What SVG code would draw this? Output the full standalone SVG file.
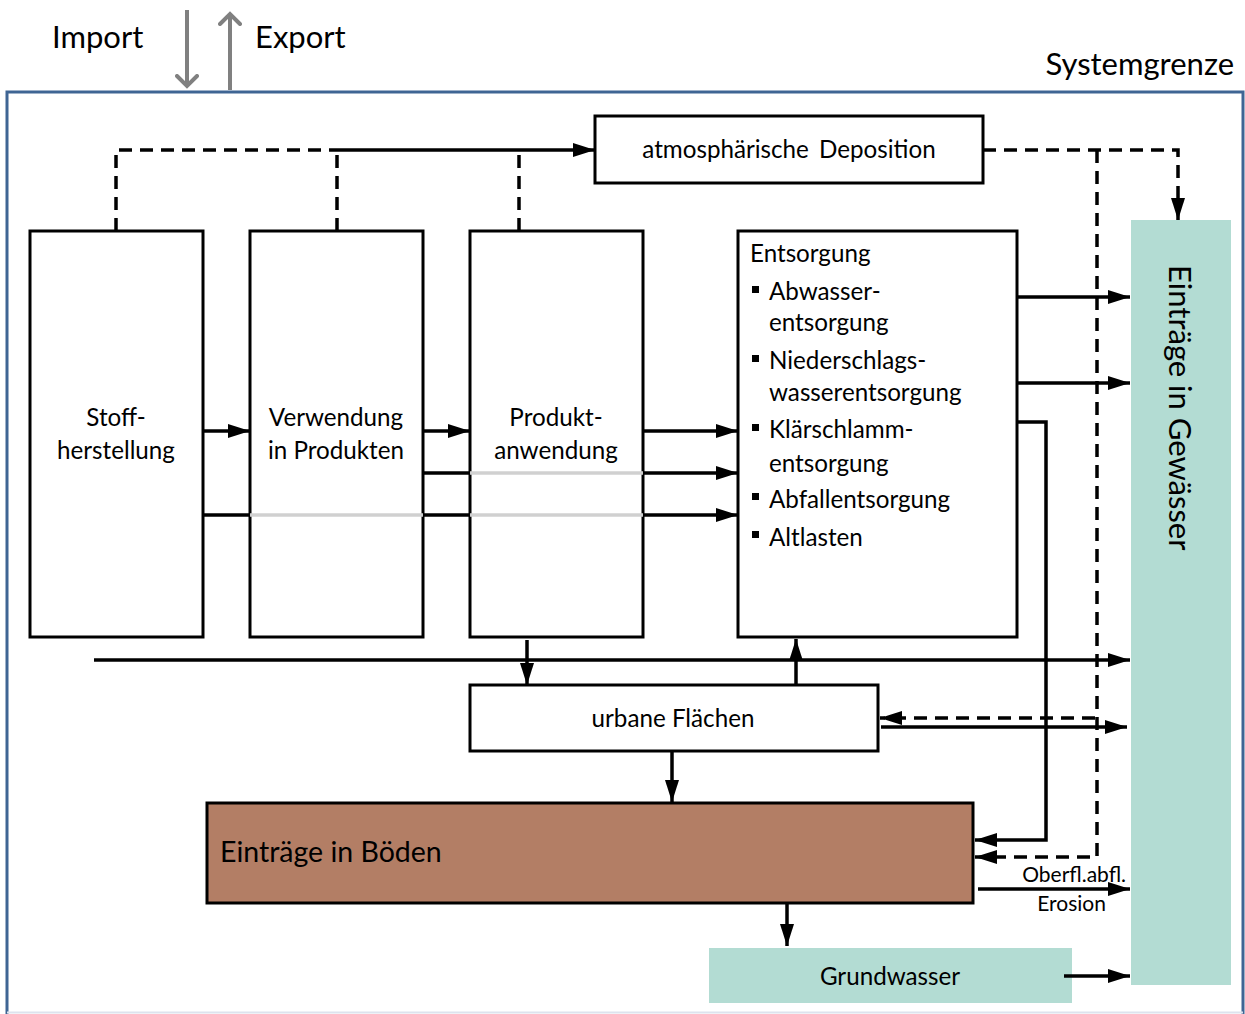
<svg xmlns="http://www.w3.org/2000/svg" width="1245" height="1014" viewBox="0 0 1245 1014">
<defs>
<marker id="ah" markerUnits="userSpaceOnUse" markerWidth="24" markerHeight="16" refX="22" refY="8" orient="auto">
<path d="M0,1 L22,8 L0,15 z" fill="#000"/>
</marker>
<marker id="gh" markerUnits="userSpaceOnUse" markerWidth="24" markerHeight="24" refX="12" refY="12" orient="auto">
<path d="M2,2 L12,12 L2,22" fill="none" stroke="#808080" stroke-width="4" stroke-linecap="round"/>
</marker>
<style>
text{font-family:Lato,"Open Sans","Liberation Sans",sans-serif;fill:#000}
.box{fill:#fff;stroke:#000;stroke-width:3}
.t22{font-size:24.2px}
.c{text-anchor:middle}
.ln{fill:none;stroke:#000;stroke-width:3.5}
.ds{fill:none;stroke:#000;stroke-width:3.5;stroke-dasharray:13 8}
.gl{stroke:#d0d0d0;stroke-width:3.5}
.teal{fill:#b3dcd3}
</style>
</defs>
<rect width="1245" height="1014" fill="#fff"/>
<!-- system boundary -->
<g id="systemgrenze">
<path d="M7,1014 V92 H1243 V1014" fill="none" stroke="#3f6594" stroke-width="3"/>
<line x1="7" y1="1012.5" x2="1243" y2="1012.5" stroke="#dde3ee" stroke-width="2"/>
<text x="1234" y="75" font-size="31" text-anchor="end">Systemgrenze</text>
</g>
<g id="import">
<line x1="187" y1="10" x2="187" y2="86" stroke="#808080" stroke-width="4" marker-end="url(#gh)"/>
<text x="52" y="48" font-size="31">Import</text>
</g>
<g id="export">
<line x1="230" y1="90" x2="230" y2="14" stroke="#808080" stroke-width="4" marker-end="url(#gh)"/>
<text x="255" y="48" font-size="31">Export</text>
</g>
<!-- nodes -->
<g id="deposition"><rect class="box" x="595" y="116" width="388" height="67"/><text class="t22 c" x="789" y="158" word-spacing="4">atmosphärische Deposition</text></g>
<g id="stoffherstellung"><rect class="box" x="30" y="231" width="173" height="406"/><text class="t22 c" x="116" y="426">Stoff-</text><text class="t22 c" x="116" y="459">herstellung</text></g>
<g id="verwendung"><rect class="box" x="250" y="231" width="173" height="406"/><text class="t22 c" x="336" y="426">Verwendung</text><text class="t22 c" x="336" y="459">in Produkten</text></g>
<g id="produktanwendung"><rect class="box" x="470" y="231" width="173" height="406"/><text class="t22 c" x="556" y="426">Produkt-</text><text class="t22 c" x="556" y="459">anwendung</text></g>
<g id="entsorgung"><rect class="box" x="738" y="231" width="279" height="406"/>
<text class="t22" x="750" y="262">Entsorgung</text>
<g fill="#000"><rect x="752" y="286" width="7" height="7"/><rect x="752" y="355" width="7" height="7"/><rect x="752" y="424" width="7" height="7"/><rect x="752" y="493" width="7" height="7"/><rect x="752" y="531" width="7" height="7"/></g>
<text class="t22" x="769" y="300">Abwasser-</text>
<text class="t22" x="769" y="331">entsorgung</text>
<text class="t22" x="769" y="369">Niederschlags-</text>
<text class="t22" x="769" y="401">wasserentsorgung</text>
<text class="t22" x="769" y="438">Klärschlamm-</text>
<text class="t22" x="769" y="472">entsorgung</text>
<text class="t22" x="769" y="508">Abfallentsorgung</text>
<text class="t22" x="769" y="546">Altlasten</text>
</g>
<g id="gewaesser"><rect class="teal" x="1131" y="220" width="100" height="765"/><text x="1169" y="265" font-size="31" transform="rotate(90 1169 265)">Einträge in Gewässer</text></g>
<g id="urban"><rect class="box" x="470" y="685" width="408" height="66"/><text class="t22 c" x="673" y="727">urbane Flächen</text></g>
<g id="boeden"><rect x="207" y="803" width="766" height="100" fill="#b37e65" stroke="#000" stroke-width="3"/><text x="220" y="862" font-size="28.5">Einträge in Böden</text></g>
<g id="grundwasser"><rect class="teal" x="709" y="948" width="363" height="55"/><text class="t22 c" x="890" y="985">Grundwasser</text></g>
<!-- connectors -->
<g id="connectors">
<path class="ds" d="M116,231 V150 H337"/>
<path class="ds" d="M337,231 V150"/>
<path class="ds" d="M519,231 V150"/>
<line class="ln" x1="337" y1="150" x2="595" y2="150" marker-end="url(#ah)"/>
<path class="ds" d="M983,150 H1178 V220" marker-end="url(#ah)"/>
<path class="ds" d="M1097,150 V857 H975" marker-end="url(#ah)"/>
<line class="ln" x1="203" y1="431" x2="250" y2="431" marker-end="url(#ah)"/>
<line class="ln" x1="423" y1="431" x2="470" y2="431" marker-end="url(#ah)"/>
<line class="ln" x1="643" y1="431" x2="738" y2="431" marker-end="url(#ah)"/>
<line class="gl" x1="470" y1="473" x2="643" y2="473"/>
<line class="ln" x1="423" y1="473" x2="470" y2="473"/>
<line class="ln" x1="643" y1="473" x2="738" y2="473" marker-end="url(#ah)"/>
<line class="gl" x1="250" y1="515" x2="423" y2="515"/>
<line class="gl" x1="470" y1="515" x2="643" y2="515"/>
<line class="ln" x1="203" y1="515" x2="250" y2="515"/>
<line class="ln" x1="423" y1="515" x2="470" y2="515"/>
<line class="ln" x1="643" y1="515" x2="738" y2="515" marker-end="url(#ah)"/>
<line class="ln" x1="1017" y1="297" x2="1130" y2="297" marker-end="url(#ah)"/>
<line class="ln" x1="1017" y1="383" x2="1130" y2="383" marker-end="url(#ah)"/>
<path class="ln" d="M1017,422 H1046 V840 H975" marker-end="url(#ah)"/>
<line class="ln" x1="94" y1="660" x2="1130" y2="660" marker-end="url(#ah)"/>
<line class="ln" x1="527" y1="640" x2="527" y2="685" marker-end="url(#ah)"/>
<line class="ln" x1="796" y1="685" x2="796" y2="639" marker-end="url(#ah)"/>
<line class="ds" x1="1095" y1="718" x2="880" y2="718" marker-end="url(#ah)"/>
<line class="ln" x1="881" y1="727" x2="1127" y2="727" marker-end="url(#ah)"/>
<line class="ln" x1="672" y1="751" x2="672" y2="802" marker-end="url(#ah)"/>
<line class="ln" x1="978" y1="889" x2="1130" y2="889" marker-end="url(#ah)"/>
<line class="ln" x1="787" y1="903" x2="787" y2="946" marker-end="url(#ah)"/>
<line class="ln" x1="1064" y1="976" x2="1130" y2="976" marker-end="url(#ah)"/>
<text x="1126" y="882" font-size="21" text-anchor="end">Oberfl.abfl.</text>
<text x="1106" y="911" font-size="21" text-anchor="end">Erosion</text>
</g>
</svg>
